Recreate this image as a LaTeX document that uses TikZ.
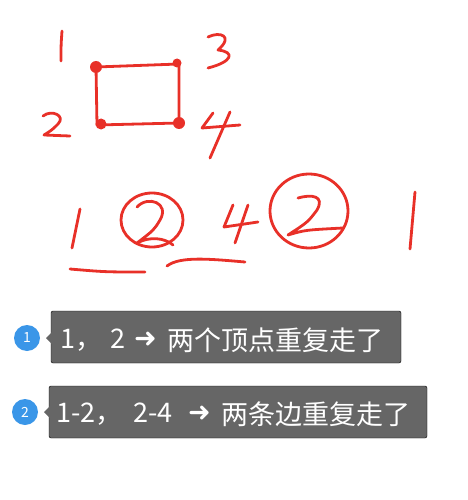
\documentclass[tikz,border=0pt]{standalone}
\usepackage{fontspec}
\setmainfont{Noto Sans CJK SC}
\newfontfamily\arrowfont{DejaVu Sans}
\definecolor{ink}{RGB}{232,48,40}
\definecolor{tipgray}{RGB}{102,102,102}
\definecolor{badgeblue}{RGB}{58,150,232}
\begin{document}
\begin{tikzpicture}[x=1pt,y=-1pt,
  pen/.style={draw=ink,line width=2.8pt,line cap=round,line join=round},
  dot/.style={circle,fill=ink,inner sep=0pt,minimum size=12pt},
  tipbox/.style={fill=tipgray,rounded corners=2pt},
  tiptext/.style={anchor=base west,text=white,font=\fontsize{27}{30}\selectfont,inner sep=0pt},
  tiparrow/.style={anchor=base west,text=white,font=\arrowfont\fontsize{27}{30}\selectfont,inner sep=0pt},
  badge/.style={circle,fill=badgeblue,text=white,inner sep=0pt,minimum size=26pt,font=\fontsize{14}{16}\selectfont}]
\useasboundingbox (0,0) rectangle (467,500);
% top sketch
\draw[pen] (62,31) .. controls (61,45) .. (61,61);
\draw[pen] (208,37) .. controls (220,31) and (234,36) .. (218,50) .. controls (236,52) and (232,62) .. (208,68);
\coordinate (v1) at (96,67);
\coordinate (v3) at (179,64);
\coordinate (v2) at (97,125);
\coordinate (v4) at (179,123);
\draw[pen] (v1) -- (v3) -- (v4) -- (v2) -- cycle;
\node[dot] (d1) at (v1) {};
\node[dot,minimum size=9pt] (d3) at (177,63) {};
\node[dot,minimum size=11pt] (d2) at (101,124) {};
\node[dot] (d4) at (v4) {};
\draw[pen] (43,116) .. controls (52,109) and (66,116) .. (58,124) .. controls (52,130) .. (44,135) -- (70,136);
\draw[pen] (213,113) -- (202,128) -- (240,125);
\draw[pen] (230,112) -- (210,158);
% bottom sketch
\draw[pen] (80,209) -- (72,248);
\draw[pen] (152,220) ellipse [x radius=31pt,y radius=27pt];
\draw[pen] (137,207) .. controls (148,195) and (170,203) .. (160,220) .. controls (154,230) .. (137,243) .. controls (150,236) and (165,238) .. (173,245);
\draw[pen] (233,205) -- (224,227) -- (258,222);
\draw[pen] (248,205) -- (235,243);
\draw[pen] (309,211) ellipse [x radius=39pt,y radius=37pt];
\draw[pen] (298,198) .. controls (312,194) and (325,196) .. (317,210) .. controls (308,222) .. (288,235) .. controls (305,230) .. (343,228);
\draw[pen] (415,192) -- (410,249);
\draw[pen] (70,269) .. controls (105,272) .. (145,272);
\draw[pen] (167,266) .. controls (180,256) and (210,259) .. (245,262);
% callout 1
\draw[tipbox] (51,311) rectangle (401,363);
\fill[tipgray] (46,338) -- (52,332) -- (52,344) -- cycle;
\node[badge] (b1) at (27,338) {1};
\node[tiptext] (t1a) at (60,348) {1，};
\node[tiptext] (t1b) at (110,348) {2};
\node[tiparrow] (t1c) at (134,347) {➜};
\node[tiptext] (t1d) at (167,350) {两个顶点重复走了};
% callout 2
\draw[tipbox] (49,386) rectangle (427,438);
\fill[tipgray] (44,412) -- (50,406) -- (50,418) -- cycle;
\node[badge] (b2) at (25,412) {2};
\node[tiptext] (t2a) at (56,422) {1-2，};
\node[tiptext] (t2b) at (133,422) {2-4};
\node[tiparrow] (t2c) at (188,421) {➜};
\node[tiptext] (t2d) at (221,424) {两条边重复走了};
\end{tikzpicture}
\end{document}
